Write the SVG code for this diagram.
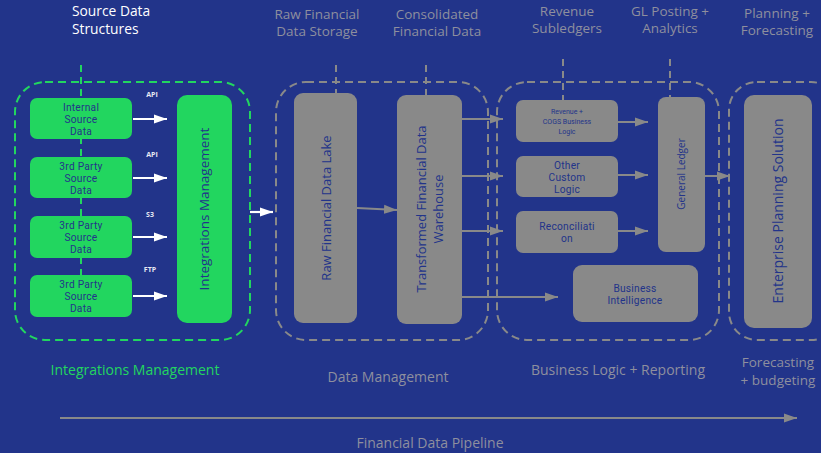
<svg xmlns="http://www.w3.org/2000/svg" width="821" height="453" viewBox="0 0 821 453">
  <style>
    text { font-family: "Open Sans", "Liberation Sans", sans-serif; text-anchor: middle; }
    .hdr { fill: #8e8f9e; font-size: 13.5px; }
    .hdr-w { fill: #ffffff; font-size: 13.8px; text-anchor: start; }
    .foot { fill: #8e8f9e; font-size: 14px; }
    .foot-s { fill: #8e8f9e; font-size: 13.5px; }
    .foot-g { fill: #22d65f; font-size: 14px; }
    .green-box { fill: #22d65f; }
    .gray-box { fill: #898989; }
    .box-txt { fill: #22348a; font-size: 10px; }
    .ml { font-family: Roboto, "Liberation Sans", sans-serif; font-size: 10.2px; letter-spacing: 0.25px; }
    .small-txt { fill: #22348a; font-size: 7px; font-family: Roboto, "Liberation Sans", sans-serif; }
    .proto { fill: #e6e8f2; font-size: 7px; font-weight: bold; }
    .grp-g { fill: none; stroke: #22d65f; stroke-width: 2; stroke-dasharray: 8 5; }
    .grp-gr { fill: none; stroke: #898989; stroke-width: 2; stroke-dasharray: 8 5; }
    .tick-g { stroke: #22d65f; stroke-width: 2; stroke-dasharray: 7 5; }
    .tick-gr { stroke: #898989; stroke-width: 2; stroke-dasharray: 7 5; }
    .arr-w { stroke: #ffffff; stroke-width: 2.2; fill: none; marker-end: url(#headW); }
    .arr-gr { stroke: #898989; stroke-width: 2; fill: none; marker-end: url(#headG); }
  </style>
  <defs>
    <marker id="headW" markerUnits="userSpaceOnUse" markerWidth="13" markerHeight="10" refX="13" refY="5" orient="auto">
      <path d="M0,0.5 L13,5 L0,9.5 z" fill="#ffffff"/>
    </marker>
    <marker id="headG" markerUnits="userSpaceOnUse" markerWidth="13" markerHeight="10" refX="13" refY="5" orient="auto">
      <path d="M0,0.5 L13,5 L0,9.5 z" fill="#898989"/>
    </marker>
  </defs>

  <!-- background -->
  <rect x="0" y="0" width="821" height="453" fill="#22348a"/>

  <!-- stage headers -->
  <g id="headers">
    <text class="hdr-w" x="72" y="15.5">Source Data</text>
    <text class="hdr-w" x="72" y="33.5">Structures</text>
    <text class="hdr" x="317" y="19">Raw Financial</text>
    <text class="hdr" x="317" y="36">Data Storage</text>
    <text class="hdr" x="437" y="19">Consolidated</text>
    <text class="hdr" x="437" y="36">Financial Data</text>
    <text class="hdr" x="567" y="16">Revenue</text>
    <text class="hdr" x="567" y="33">Subledgers</text>
    <text class="hdr" x="670" y="16">GL Posting +</text>
    <text class="hdr" x="670" y="33">Analytics</text>
    <text class="hdr" x="777" y="18">Planning +</text>
    <text class="hdr" x="777" y="35">Forecasting</text>
  </g>

  <!-- stage groups -->
  <g id="stage-integrations">
    <line class="tick-g" x1="81" y1="65" x2="81" y2="278"/>
    <rect class="grp-g" x="15" y="82" width="235" height="258" rx="30"/>
  </g>
  <g id="stage-data">
    <line class="tick-gr" x1="336" y1="65" x2="336" y2="95"/>
    <line class="tick-gr" x1="426" y1="65" x2="426" y2="97"/>
    <rect class="grp-gr" x="276" y="82" width="212" height="258" rx="30"/>
  </g>
  <g id="stage-logic">
    <line class="tick-gr" x1="563" y1="59" x2="563" y2="101"/>
    <line class="tick-gr" x1="670" y1="59" x2="670" y2="99"/>
    <rect class="grp-gr" x="497" y="82" width="222" height="258" rx="30"/>
  </g>
  <g id="stage-planning">
    <rect class="grp-gr" x="729" y="82" width="110" height="258" rx="28"/>
  </g>

  <!-- connectors -->
  <g id="connectors">
    <line class="arr-w" x1="133" y1="119" x2="167" y2="119"/>
    <line class="arr-w" x1="133" y1="178" x2="167" y2="178"/>
    <line class="arr-w" x1="133" y1="237" x2="167" y2="237"/>
    <line class="arr-w" x1="133" y1="296" x2="167" y2="296"/>
    <line class="arr-w" x1="250" y1="212" x2="273" y2="212"/>
    <line class="arr-gr" x1="357" y1="208" x2="397" y2="210"/>
    <line class="arr-gr" x1="462" y1="119" x2="503" y2="119"/>
    <line class="arr-gr" x1="462" y1="176" x2="503" y2="176"/>
    <line class="arr-gr" x1="462" y1="231" x2="503" y2="231"/>
    <line class="arr-gr" x1="462" y1="297" x2="558" y2="297"/>
    <line class="arr-gr" x1="618" y1="122" x2="648" y2="122"/>
    <line class="arr-gr" x1="618" y1="175" x2="648" y2="175"/>
    <line class="arr-gr" x1="618" y1="231" x2="648" y2="231"/>
    <line class="arr-gr" x1="705" y1="176" x2="730" y2="176"/>
    <line class="arr-gr" x1="60" y1="418" x2="797" y2="418"/>
  </g>

  <!-- protocol labels -->
  <g id="protocols">
    <text class="proto" x="152" y="97">API</text>
    <text class="proto" x="152" y="157">API</text>
    <text class="proto" x="150" y="217">S3</text>
    <text class="proto" x="150" y="272">FTP</text>
  </g>

  <!-- source nodes -->
  <g id="src-internal">
    <rect class="green-box" x="30" y="98" width="102" height="41" rx="7"/>
    <text class="box-txt ml" x="81" y="111">Internal</text>
    <text class="box-txt ml" x="81" y="123">Source</text>
    <text class="box-txt ml" x="81" y="135">Data</text>
  </g>
  <g id="src-third-1">
    <rect class="green-box" x="30" y="157" width="102" height="41" rx="7"/>
    <text class="box-txt ml" x="81" y="170">3rd Party</text>
    <text class="box-txt ml" x="81" y="182">Source</text>
    <text class="box-txt ml" x="81" y="194">Data</text>
  </g>
  <g id="src-third-2">
    <rect class="green-box" x="30" y="216" width="102" height="42" rx="7"/>
    <text class="box-txt ml" x="81" y="229">3rd Party</text>
    <text class="box-txt ml" x="81" y="241">Source</text>
    <text class="box-txt ml" x="81" y="253">Data</text>
  </g>
  <g id="src-third-3">
    <rect class="green-box" x="30" y="275" width="102" height="42" rx="7"/>
    <text class="box-txt ml" x="81" y="288">3rd Party</text>
    <text class="box-txt ml" x="81" y="300">Source</text>
    <text class="box-txt ml" x="81" y="312">Data</text>
  </g>
  <g id="integrations-mgmt">
    <rect class="green-box" x="177" y="95" width="55" height="228" rx="10"/>
    <text class="box-txt" style="font-size:13.5px" transform="translate(209,209) rotate(-90)">Integrations Management</text>
  </g>

  <!-- data management nodes -->
  <g id="raw-lake">
    <rect class="gray-box" x="294" y="93" width="63" height="230" rx="9"/>
    <text class="box-txt" style="font-size:13px" transform="translate(331,208) rotate(-90)">Raw Financial Data Lake</text>
  </g>
  <g id="warehouse">
    <rect class="gray-box" x="397" y="95" width="65" height="229" rx="9"/>
    <text class="box-txt" style="font-size:13px" transform="translate(426,209) rotate(-90)">Transformed Financial Data</text>
    <text class="box-txt" style="font-size:13px" transform="translate(443,209) rotate(-90)">Warehouse</text>
  </g>

  <!-- business logic nodes -->
  <g id="rev-cogs">
    <rect class="gray-box" x="516" y="100" width="102" height="42" rx="7"/>
    <text class="small-txt" x="567" y="113.5">Revenue +</text>
    <text class="small-txt" x="567" y="123.5">COGS Business</text>
    <text class="small-txt" x="567" y="133.5">Logic</text>
  </g>
  <g id="custom-logic">
    <rect class="gray-box" x="516" y="156" width="102" height="41" rx="7"/>
    <text class="box-txt ml" x="567" y="169">Other</text>
    <text class="box-txt ml" x="567" y="181">Custom</text>
    <text class="box-txt ml" x="567" y="193">Logic</text>
  </g>
  <g id="reconciliation">
    <rect class="gray-box" x="516" y="211" width="102" height="42" rx="7"/>
    <text class="box-txt ml" x="567" y="229.5">Reconciliati</text>
    <text class="box-txt ml" x="567" y="242">on</text>
  </g>
  <g id="general-ledger">
    <rect class="gray-box" x="658" y="97" width="47" height="155" rx="8"/>
    <text class="box-txt" style="font-size:10px" transform="translate(685,174) rotate(-90)">General Ledger</text>
  </g>
  <g id="business-intelligence">
    <rect class="gray-box" x="573" y="265" width="125" height="57" rx="9"/>
    <text class="box-txt ml" x="635" y="291.5">Business</text>
    <text class="box-txt ml" x="635" y="304">Intelligence</text>
  </g>

  <!-- planning node -->
  <g id="enterprise-planning">
    <rect class="gray-box" x="744" y="95" width="68" height="233" rx="10"/>
    <text class="box-txt" style="font-size:14px" transform="translate(783,211) rotate(-90)">Enterprise Planning Solution</text>
  </g>

  <!-- stage footers -->
  <g id="footers">
    <text class="foot-g" x="135" y="375">Integrations Management</text>
    <text class="foot" x="388" y="382">Data Management</text>
    <text class="foot" x="618" y="375">Business Logic + Reporting</text>
    <text class="foot-s" x="778" y="366.5">Forecasting</text>
    <text class="foot-s" x="778" y="384.5">+ budgeting</text>
    <text class="foot" x="430" y="448">Financial Data Pipeline</text>
  </g>
</svg>
